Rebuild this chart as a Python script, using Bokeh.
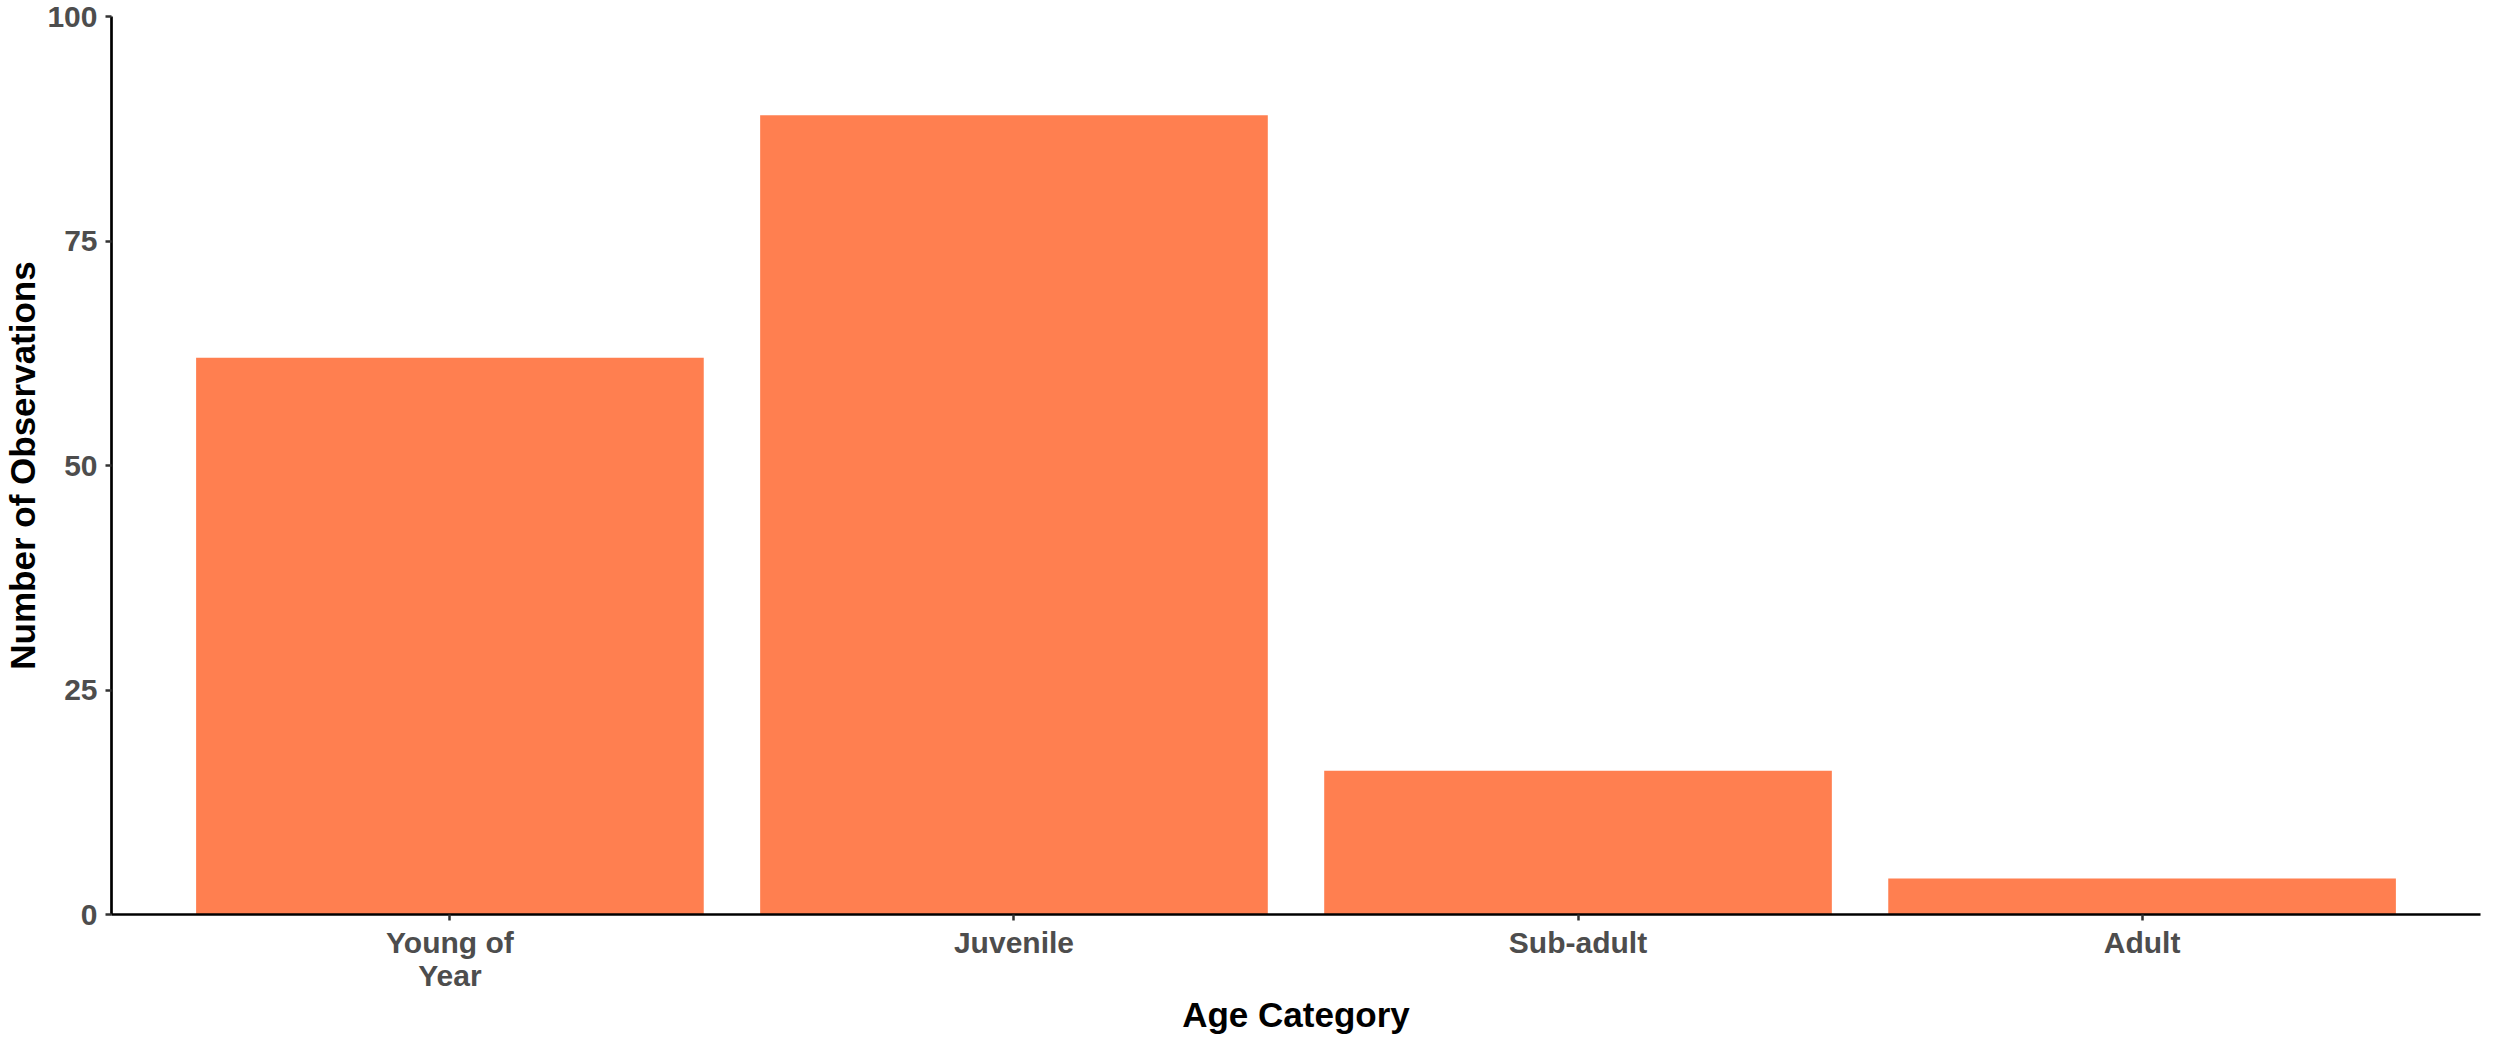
from bokeh.plotting import figure
from bokeh.models import Range1d, FixedTicker, ColumnDataSource
from bokeh.embed import file_html
from bokeh.resources import INLINE

categories = ["Young of\nYear", "Juvenile", "Sub-adult", "Adult"]
counts = [62, 89, 16, 4]
y_ticks = [0, 25, 50, 75, 100]

positions = list(range(1, len(categories) + 1))
src = ColumnDataSource(dict(x=positions, top=counts))

p = figure(width=2484, height=1036, output_backend="svg", toolbar_location=None,
           x_range=Range1d(0.4, len(categories) + 0.6), y_range=Range1d(0, 100),
           min_border_left=90, min_border_right=4, min_border_top=16, min_border_bottom=100)
p.outline_line_color = None
p.background_fill_color = "white"
p.border_fill_color = "white"
p.xgrid.visible = False
p.ygrid.visible = False

p.vbar(x="x", top="top", bottom=0, width=0.9, source=src, fill_color="#FF7F50", line_color=None)

FONT = "Liberation Sans"
for ax in (p.xaxis[0], p.yaxis[0]):
    ax.axis_line_color = "black"
    ax.axis_line_width = 2.7
    ax.major_tick_line_color = "#333333"
    ax.major_tick_line_width = 2.5
    ax.major_tick_out = 6
    ax.major_tick_in = 0
    ax.minor_tick_line_color = None
    ax.major_label_text_font = FONT
    ax.major_label_text_font_style = "bold"
    ax.major_label_text_font_size = "30px"
    ax.major_label_text_color = "#4D4D4D"
    ax.major_label_text_line_height = 1.0
    ax.axis_label_text_font = FONT
    ax.axis_label_text_font_style = "bold"
    ax.axis_label_text_font_size = "35px"
    ax.axis_label_text_color = "black"
    ax.axis_label_text_line_height = 0.85

p.xaxis.ticker = FixedTicker(ticks=positions)
p.xaxis.major_label_overrides = {pos: cat for pos, cat in zip(positions, categories)}
p.xaxis.axis_label = "Age Category"
p.xaxis.major_label_standoff = 5
p.xaxis.axis_label_standoff = 0

p.yaxis.ticker = FixedTicker(ticks=y_ticks)
p.yaxis.axis_label = "Number of Observations"
p.yaxis.major_label_standoff = 8
p.yaxis.axis_label_standoff = 2

open("out.html", "w").write(file_html(p, INLINE))
